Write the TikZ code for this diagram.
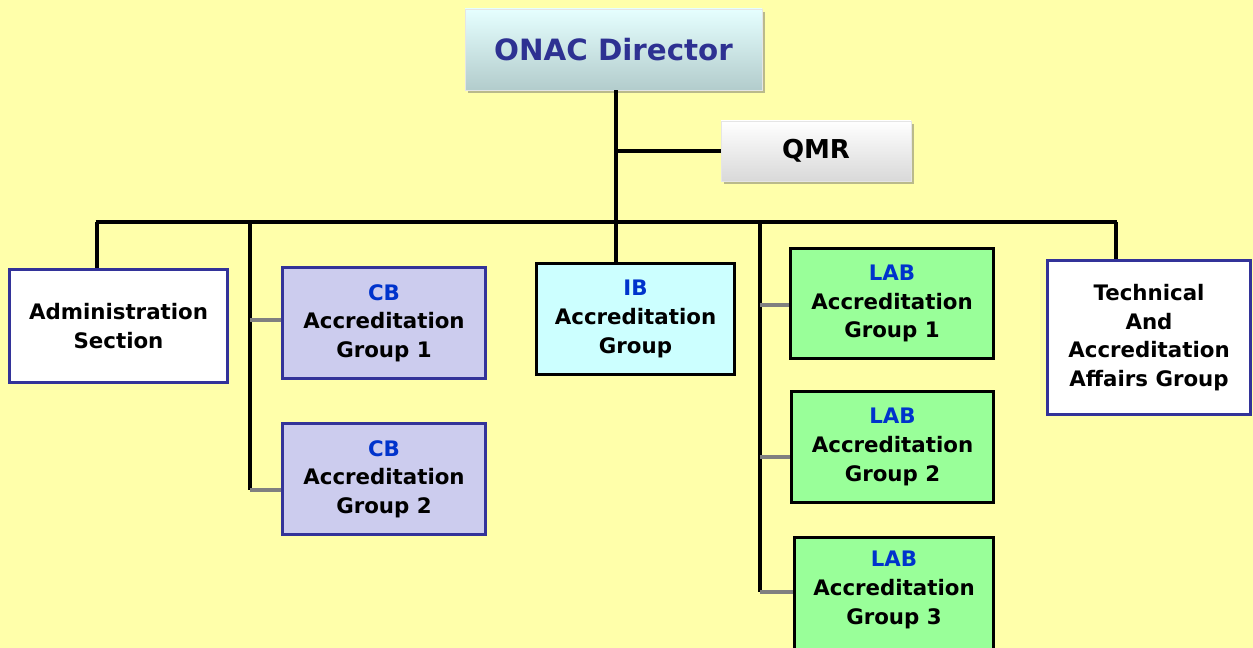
\documentclass[tikz,border=0pt]{standalone}
\usepackage{fontspec}
\setmainfont{DejaVu Sans}
\usetikzlibrary{shadows}
\definecolor{bgyellow}{HTML}{FFFFAA}
\definecolor{navy}{HTML}{333399}
\definecolor{dirtext}{HTML}{2E3192}
\definecolor{grpblue}{HTML}{0033CC}
\definecolor{cbfill}{HTML}{CCCCEE}
\definecolor{ibfill}{HTML}{CCFFFF}
\definecolor{labfill}{HTML}{99FF99}
\definecolor{conngray}{HTML}{808080}
\begin{document}
\begin{tikzpicture}[x=0.75pt,y=-0.75pt,
  unitbox/.style={rectangle, inner sep=0pt, line width=2.25pt, align=center,
    font=\fontsize{16}{21.5}\selectfont\bfseries},
  navybox/.style={unitbox, draw=navy},
  blackbox/.style={unitbox, draw=black},
  topbox/.style={rectangle, inner sep=0pt, draw=white!80!gray, line width=0.6pt,
    drop shadow={shadow xshift=2pt, shadow yshift=-2pt, opacity=0.45, fill=black!60}},
  conn/.style={draw=black, line width=2.4pt},
  subconn/.style={draw=conngray, line width=2.4pt},
  tag/.style={text=grpblue}
]
\clip (0,0) rectangle (1253,648);
\fill[bgyellow] (0,0) rectangle (1253,648);
\useasboundingbox (0,0) rectangle (1253,648);

% top nodes
\node[topbox, top color=cyan!10!white, bottom color=cyan!20!gray!50!white,
  minimum width=297*0.75pt, minimum height=81*0.75pt,
  font=\fontsize{22}{26}\selectfont\bfseries, text=dirtext] (dir) at (613.5,49.5) {ONAC Director};
\node[topbox, top color=white, bottom color=black!15,
  minimum width=190*0.75pt, minimum height=60*0.75pt,
  font=\fontsize{19.5}{23}\selectfont\bfseries] (qmr) at (816,151) {QMR};

% second level
\node[navybox, fill=white, minimum width=218*0.75pt, minimum height=113*0.75pt] (adm) at (118.5,326) {Administration\\Section};
\node[navybox, fill=cbfill, minimum width=203*0.75pt, minimum height=111*0.75pt] (cb1) at (384,323) {\textcolor{grpblue}{CB}\\Accreditation\\Group 1};
\node[navybox, fill=cbfill, minimum width=203*0.75pt, minimum height=111*0.75pt] (cb2) at (384,479) {\textcolor{grpblue}{CB}\\Accreditation\\Group 2};
\node[blackbox, fill=ibfill, minimum width=198*0.75pt, minimum height=111*0.75pt] (ib) at (635.5,319) {\textcolor{grpblue}{IB}\\Accreditation\\Group};
\node[blackbox, fill=labfill, minimum width=203*0.75pt, minimum height=110*0.75pt] (lab1) at (892,303.5) {\textcolor{grpblue}{LAB}\\Accreditation\\Group 1};
\node[blackbox, fill=labfill, minimum width=202*0.75pt, minimum height=111*0.75pt] (lab2) at (892.5,447) {\textcolor{grpblue}{LAB}\\Accreditation\\Group 2};
\node[blackbox, fill=labfill, minimum width=199*0.75pt, minimum height=120*0.75pt] (lab3) at (894,597) {};
\node[font=\fontsize{16}{21.5}\selectfont\bfseries, align=center, inner sep=0pt] (lab3t) at (894,590) {\textcolor{grpblue}{LAB}\\Accreditation\\Group 3};
\node[navybox, fill=white, minimum width=203*0.75pt, minimum height=154*0.75pt] (tech) at (1149,337.5) {Technical\\And\\Accreditation\\Affairs Group};

% coordinates of the trunk and bus
\coordinate (bus) at (616,222);
\coordinate (busL) at (97,222);
\coordinate (busR) at (1116,222);
\coordinate (cbx) at (250,222);
\coordinate (labx) at (760,222);
\coordinate (cbend) at (250,490);
\coordinate (labend) at (760,592);

% connectors
\draw[conn] (dir.south -| bus) -- (bus);
\draw[conn] (qmr.west) -- (qmr.west -| bus);
\draw[conn] ([xshift=-1pt]busL) -- ([xshift=1pt]busR);
\draw[conn] (busL) -- (busL |- adm.north);
\draw[conn] (busR) -- (busR |- tech.north);
\draw[conn] (bus) -- (bus |- ib.north);
\draw[conn] (cbx) -- (cbend);
\draw[conn] (labx) -- (labend);

\draw[subconn] ([yshift=2.25pt]cb1.west) -- ([yshift=2.25pt]cb1.west -| cbend);
\draw[subconn] (cb2.west |- cbend) -- (cbend);
\draw[subconn] ([yshift=-1.1pt]lab1.west) -- ([yshift=-1.1pt]lab1.west -| labx);
\draw[subconn] ([yshift=-7.5pt]lab2.west) -- ([yshift=-7.5pt]lab2.west -| labx);
\draw[subconn] (lab3.west |- labend) -- (labend);
\end{tikzpicture}
\end{document}
